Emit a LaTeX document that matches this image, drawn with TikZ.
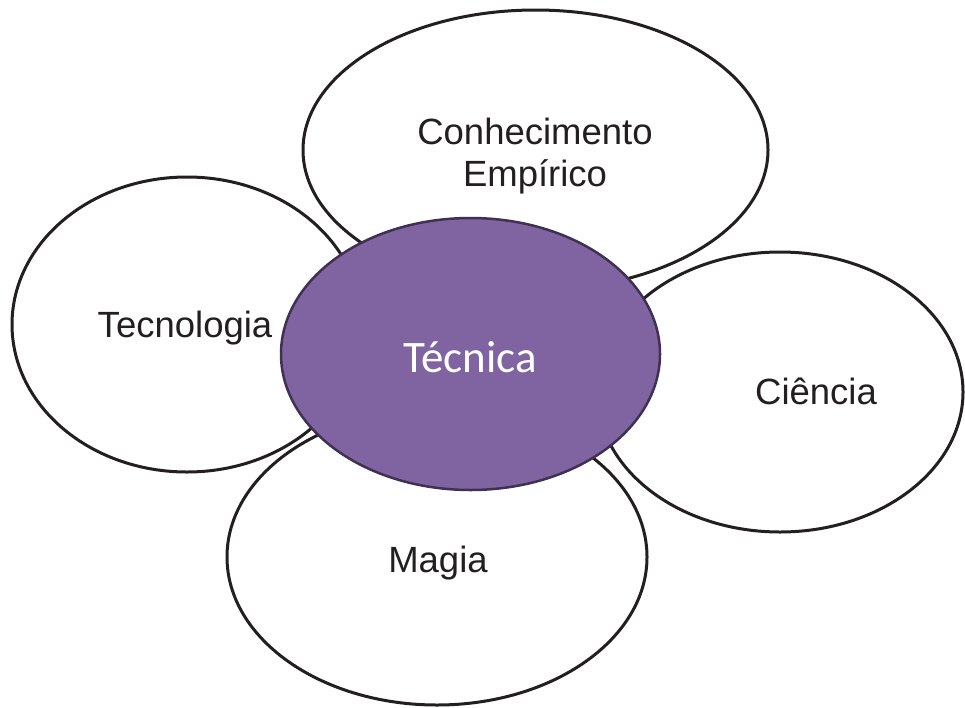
\documentclass[tikz,border=0pt]{standalone}
\usepackage{fontspec}
\setmainfont{Liberation Sans}
\newfontfamily\calibri{Carlito}
\usetikzlibrary{shapes.geometric}
\definecolor{petal}{HTML}{231F20}
\definecolor{core}{HTML}{8064A2}
\definecolor{coreline}{HTML}{3F3151}
\tikzset{
  petalshape/.style={ellipse, draw=petal, fill=white, line width=3pt, inner sep=0pt},
  coreshape/.style={ellipse, draw=coreline, fill=core, line width=2.5pt, inner sep=0pt},
  petaltext/.style={anchor=base, text=petal, inner sep=0pt, font=\fontsize{36.5}{42}\selectfont},
  coretext/.style={anchor=base, text=white, inner sep=0pt, font=\calibri\fontsize{45}{54}\selectfont}
}
\begin{document}
\begin{tikzpicture}[x=1pt,y=-1pt]
\useasboundingbox (0,0) rectangle (965,707);
% petals
\node[petalshape, minimum width=350pt, minimum height=295pt] (tec) at (187,324.5) {};
\node[petalshape, minimum width=465pt, minimum height=280pt] (conh) at (535.5,150) {};
\node[petalshape, minimum width=366pt, minimum height=280pt] (cien) at (780,392) {};
\node[petalshape, minimum width=420pt, minimum height=296pt] (mag) at (437,557) {};
% core
\node[coreshape, minimum width=379pt, minimum height=272pt] (tecnica) at (470.5,354) {};
% texts
\node[petaltext] (ttec) at (185,337) {Tecnologia};
\node[petaltext] (tconh1) at (535,144.3) {Conhecimento};
\node[petaltext] (tconh2) at (535,186) {Empírico};
\node[petaltext] (tcien) at (816,404) {Ciência};
\node[petaltext] (tmag) at (438,572) {Magia};
\node[coretext] (ttecnica) at (470,372.7) {Técnica};
\end{tikzpicture}
\end{document}
